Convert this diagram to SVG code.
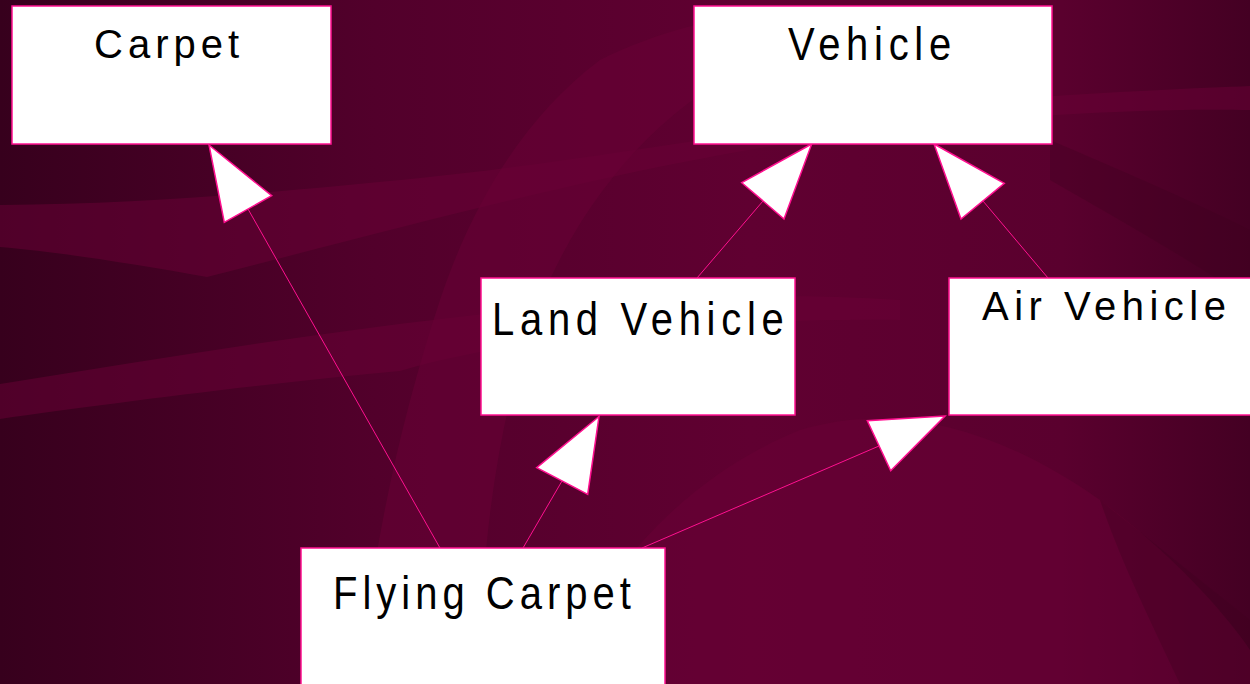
<svg xmlns="http://www.w3.org/2000/svg" width="1250" height="684" viewBox="0 0 1250 684">
<defs>
<linearGradient id="bg" x1="0" y1="0" x2="1" y2="0">
<stop offset="0" stop-color="#37001d"/>
<stop offset="0.3" stop-color="#52002b"/>
<stop offset="0.6" stop-color="#600031"/>
<stop offset="0.85" stop-color="#5a002e"/>
<stop offset="1" stop-color="#440023"/>
</linearGradient>
<style>
.box{fill:#ffffff;stroke:#ff1090;stroke-width:1.5}
.lbl{font-family:"Liberation Sans",Arial,sans-serif;font-size:40px;fill:#000000;letter-spacing:5px}
.wide{letter-spacing:5.7px}
.edge{stroke:#ff1090;stroke-width:1;fill:none}
.head{fill:#ffffff;stroke:#ff1090;stroke-width:1.5;stroke-linejoin:miter}
.sw{fill:#6a0036;opacity:0.5}
.sd{fill:#3e0020;opacity:0.35}
</style>
</defs>
<g id="background">
<rect width="1250" height="684" fill="url(#bg)"/>
<path class="sw" d="M0,205 C150,204 300,190 420,178 C600,160 800,120 1000,100 C1100,92 1200,88 1250,86 L1250,110 C1150,108 1000,115 850,135 C650,160 450,215 207,277 C140,265 60,252 0,247 Z"/>
<path class="sw" d="M0,384 C150,360 300,335 450,318 C600,300 750,290 900,300 L900,320 C700,318 500,340 400,371 C250,385 100,405 0,419 Z"/>
<path class="sw" d="M360,684 C370,560 400,420 440,300 C470,210 520,120 600,60 C680,20 760,10 820,8 L760,60 C650,110 560,220 520,360 C490,470 480,580 480,684 Z"/>
<path class="sw" d="M560,684 C600,560 700,470 800,430 C900,400 1000,430 1100,500 C1180,560 1230,620 1250,650 L1250,684 Z"/>
<path class="sd" d="M1050,140 C1120,170 1190,200 1250,230 L1250,300 C1190,260 1120,220 1050,180 Z"/>
<path class="sd" d="M1100,500 C1150,540 1200,580 1250,620 L1250,684 L1180,684 C1150,620 1120,560 1100,500 Z"/>
</g>
<g id="connectors">
<line class="edge" x1="248" y1="209" x2="440" y2="548"/>
<line class="edge" x1="763" y1="201" x2="697" y2="278"/>
<line class="edge" x1="983" y1="201" x2="1048" y2="278"/>
<line class="edge" x1="562" y1="481" x2="523" y2="548"/>
<line class="edge" x1="879" y1="446" x2="642" y2="548"/>
<polygon class="head" points="209,145 271.7,195.7 224.3,222.3"/>
<polygon class="head" points="811.7,144 741.7,182.7 784,219"/>
<polygon class="head" points="934,144 1004.3,183.3 961,219"/>
<polygon class="head" points="599,416.5 536.7,467.7 587.7,494.3"/>
<polygon class="head" points="945,416 867.3,420.7 890.7,470.7"/>
</g>
<g id="node-carpet">
<rect class="box" x="12" y="6" width="319" height="138"/>
<text class="lbl" x="94" y="57.5">Carpet</text>
</g>
<g id="node-vehicle">
<rect class="box" x="694" y="6" width="358" height="138"/>
<text class="lbl wide" transform="translate(788,59.5) scale(1,1.15)">Vehicle</text>
</g>
<g id="node-land-vehicle">
<rect class="box" x="481" y="278" width="314" height="137"/>
<text class="lbl wide" transform="translate(492,335) scale(1,1.15)">Land Vehicle</text>
</g>
<g id="node-air-vehicle">
<rect class="box" x="949" y="278" width="310" height="137"/>
<text class="lbl" style="letter-spacing:5.5px" x="982" y="320">Air Vehicle</text>
</g>
<g id="node-flying-carpet">
<rect class="box" x="301" y="548" width="364" height="146"/>
<text class="lbl" transform="translate(333,608.5) scale(1,1.15)">Flying Carpet</text>
</g>
</svg>
